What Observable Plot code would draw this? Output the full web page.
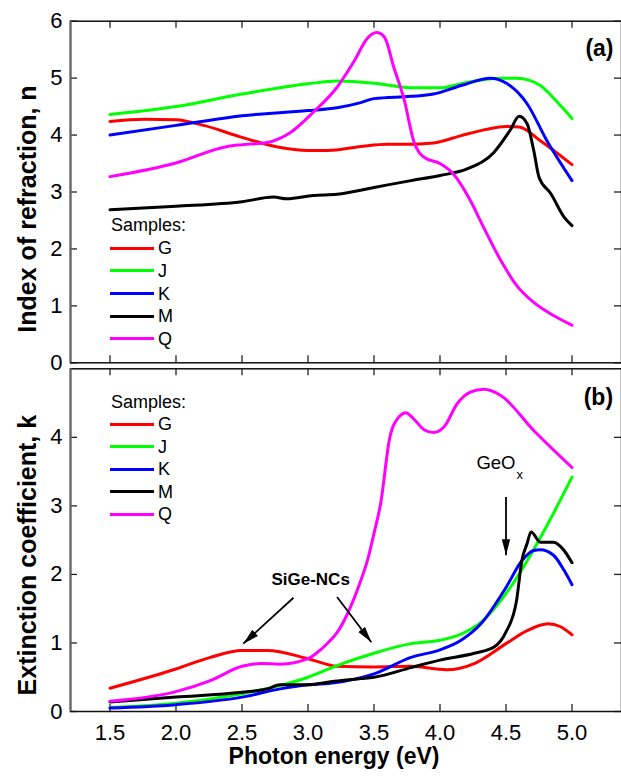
<!DOCTYPE html>
<html>
<head>
<meta charset="utf-8">
<script src="https://cdn.jsdelivr.net/npm/d3@7"></script>
<script src="https://cdn.jsdelivr.net/npm/@observablehq/plot@0.6"></script>
<style>
  html, body { margin: 0; padding: 0; background: #fff; }
  #wrap { position: relative; width: 621px; height: 779px; font-family: "Liberation Sans", Arial, sans-serif; overflow: hidden; }
  #wrap svg { position: absolute; left: 0; }
  .lg { position: absolute; font-family: "Liberation Sans", Arial, sans-serif; font-size: 18px; color: #000; line-height: 20px; height: 20px; display: flex; align-items: center; white-space: nowrap; }
  .lg .sw { width: 44px; height: 3px; margin-right: 4px; }
</style>
</head>
<body>
<div id="wrap"></div>
<script>
// ---------- data ----------
const samples = ["G", "J", "K", "M", "Q"];
const colors = ["#ff0000", "#00ff00", "#0000ff", "#000000", "#ff00ff"];
const xTicks = [1.5, 2.0, 2.5, 3.0, 3.5, 4.0, 4.5, 5.0];
const nTicks = [0, 1, 2, 3, 4, 5, 6];
const kTicks = [0, 1, 2, 3, 4];

// (a) index of refraction n
const nG_E = [1.5, 1.76, 2.0, 2.21, 2.5, 2.77, 3.0, 3.15, 3.4, 3.6, 3.8, 3.95, 4.16, 4.35, 4.5, 4.6, 4.76, 5.0];
const nG   = [4.24, 4.28, 4.27, 4.17, 3.96, 3.79, 3.73, 3.73, 3.80, 3.84, 3.84, 3.86, 3.99, 4.10, 4.15, 4.14, 3.90, 3.48];
const nJ_E = [1.5, 2.0, 2.5, 3.0, 3.22, 3.5, 3.78, 4.0, 4.21, 4.46, 4.58, 4.68, 4.76, 4.84, 4.92, 5.0];
const nJ   = [4.36, 4.50, 4.72, 4.90, 4.95, 4.91, 4.83, 4.83, 4.93, 5.00, 5.00, 4.96, 4.87, 4.70, 4.50, 4.29];
const nK_E = [1.5, 2.0, 2.5, 3.0, 3.22, 3.4, 3.5, 3.78, 3.95, 4.16, 4.38, 4.51, 4.66, 4.81, 5.0];
const nK   = [4.00, 4.17, 4.34, 4.43, 4.48, 4.57, 4.64, 4.68, 4.72, 4.87, 5.00, 4.90, 4.55, 3.90, 3.20];
const nM_E = [1.5, 2.0, 2.5, 2.74, 2.84, 3.04, 3.22, 3.5, 3.78, 4.0, 4.21, 4.41, 4.53, 4.6, 4.66, 4.71, 4.75, 4.84, 4.94, 5.0];
const nM   = [2.69, 2.75, 2.83, 2.91, 2.88, 2.94, 2.96, 3.08, 3.20, 3.29, 3.41, 3.70, 4.08, 4.33, 4.20, 3.73, 3.26, 2.97, 2.56, 2.41];
const nQ_E = [1.5, 2.0, 2.39, 2.5, 2.69, 2.87, 3.04, 3.22, 3.35, 3.45, 3.52, 3.58, 3.65, 3.73, 3.80, 3.88, 4.0, 4.10, 4.23, 4.33, 4.46, 4.58, 4.71, 4.86, 5.0];
const nQ   = [3.27, 3.51, 3.80, 3.83, 3.87, 4.05, 4.40, 4.84, 5.30, 5.70, 5.80, 5.72, 5.19, 4.61, 3.90, 3.61, 3.50, 3.32, 2.85, 2.38, 1.80, 1.36, 1.06, 0.83, 0.66];

// (b) extinction coefficient k
const kG_E = [1.5, 2.0, 2.26, 2.5, 2.69, 3.0, 3.22, 3.5, 3.78, 4.05, 4.26, 4.5, 4.66, 4.82, 4.91, 5.0];
const kG   = [0.34, 0.62, 0.79, 0.89, 0.89, 0.77, 0.66, 0.65, 0.66, 0.61, 0.70, 0.99, 1.18, 1.28, 1.24, 1.12];
const kJ_E = [1.5, 2.0, 2.5, 2.79, 3.0, 3.22, 3.5, 3.78, 4.0, 4.16, 4.31, 4.5, 4.63, 4.79, 5.0];
const kJ   = [0.06, 0.12, 0.26, 0.38, 0.50, 0.67, 0.85, 0.99, 1.04, 1.13, 1.30, 1.72, 2.10, 2.64, 3.42];
const kK_E = [1.5, 2.0, 2.5, 2.79, 3.0, 3.2, 3.5, 3.78, 4.0, 4.16, 4.31, 4.5, 4.62, 4.71, 4.76, 4.86, 4.94, 5.0];
const kK   = [0.05, 0.10, 0.21, 0.33, 0.39, 0.42, 0.55, 0.79, 0.90, 1.04, 1.28, 1.81, 2.20, 2.35, 2.36, 2.28, 2.06, 1.85];
const kM_E = [1.5, 2.0, 2.5, 2.69, 2.79, 3.0, 3.2, 3.4, 3.5, 3.78, 4.0, 4.26, 4.41, 4.5, 4.58, 4.62, 4.66, 4.69, 4.76, 4.86, 4.94, 5.0];
const kM   = [0.14, 0.21, 0.28, 0.33, 0.39, 0.39, 0.44, 0.48, 0.50, 0.64, 0.75, 0.85, 0.94, 1.16, 1.62, 2.20, 2.45, 2.62, 2.47, 2.47, 2.35, 2.17];
const kQ_E = [1.5, 2.0, 2.26, 2.5, 2.64, 2.79, 3.0, 3.07, 3.15, 3.22, 3.30, 3.40, 3.45, 3.50, 3.55, 3.62, 3.69, 3.74, 3.80, 3.88, 3.95, 4.03, 4.13, 4.23, 4.33, 4.46, 4.71, 5.0];
const kQ   = [0.15, 0.29, 0.45, 0.66, 0.70, 0.69, 0.77, 0.86, 1.00, 1.15, 1.43, 1.91, 2.20, 2.60, 3.03, 4.00, 4.30, 4.36, 4.27, 4.11, 4.07, 4.15, 4.49, 4.66, 4.70, 4.61, 4.10, 3.56];

// annotations (data coordinates of panel b)
const annArrows = [
  {x1: 2.89, y1: 1.66, x2: 2.51, y2: 0.99},
  {x1: 3.22, y1: 1.67, x2: 3.48, y2: 1.01},
  {x1: 4.50, y1: 3.13, x2: 4.50, y2: 2.28}
];

// ---------- build tables ----------
function table(pairs) {
  const rows = [];
  pairs.forEach(([s, E, V]) => E.forEach((e, i) => rows.push({sample: s, E: e, v: V[i]})));
  return rows;
}
const nRows = table([["G", nG_E, nG], ["J", nJ_E, nJ], ["K", nK_E, nK], ["M", nM_E, nM], ["Q", nQ_E, nQ]]);
const kRows = table([["G", kG_E, kG], ["J", kJ_E, kJ], ["K", kK_E, kK], ["M", kM_E, kM], ["Q", kQ_E, kQ]]);

const W = 621, ML = 70, MR = 0;
const xDomain = [1.5 - (109.5 - ML) / 132, 1.5 + (W - MR - 109.5) / 132];
const font = "Liberation Sans, Arial, sans-serif";
const TL = 7; // inward tick length

// filled triangular arrow head
function filledHead(color, context) {
  const doc = (context && context.document) || document;
  const m = doc.createElementNS("http://www.w3.org/2000/svg", "marker");
  m.setAttribute("viewBox", "0 -5 16 10");
  m.setAttribute("refX", "16");
  m.setAttribute("refY", "0");
  m.setAttribute("markerWidth", "16");
  m.setAttribute("markerHeight", "10");
  m.setAttribute("markerUnits", "userSpaceOnUse");
  m.setAttribute("orient", "auto");
  const p = doc.createElementNS("http://www.w3.org/2000/svg", "path");
  p.setAttribute("d", "M0,-4.2L16,0L0,4.2Z");
  p.setAttribute("fill", color);
  p.setAttribute("stroke", "none");
  m.appendChild(p);
  return m;
}

function frameMarks(innerW, innerH, yTicks) {
  return [
    Plot.tickX(xTicks, {x: d => d, insetTop: innerH - TL, stroke: "#222", strokeWidth: 1.3}),
    Plot.tickX(xTicks, {x: d => d, insetBottom: innerH - TL, stroke: "#222", strokeWidth: 1.3}),
    Plot.tickY(yTicks, {y: d => d, insetRight: innerW - TL, stroke: "#222", strokeWidth: 1.3}),
    Plot.tickY(yTicks, {y: d => d, insetLeft: innerW - TL, stroke: "#222", strokeWidth: 1.3}),
    Plot.frame({stroke: "#111", strokeWidth: 1.5}),
    Plot.ruleX([xDomain[0]], {stroke: "#666", strokeWidth: 2})
  ];
}

// ---------- panel (a) ----------
const aH = 366, aMT = 20.7, aMB = 3.7;
const plotA = Plot.plot({
  width: W, height: aH,
  marginLeft: ML, marginRight: MR, marginTop: aMT, marginBottom: aMB,
  style: {fontFamily: font, background: "none", overflow: "visible"},
  x: {domain: xDomain, axis: null},
  y: {domain: [0, 6], axis: null},
  color: {domain: samples, range: colors},
  marks: [
    ...frameMarks(W - ML - MR, aH - aMT - aMB, nTicks),
    Plot.axisY({ticks: nTicks, tickSize: 0, tickPadding: 8, fontSize: 22, label: null, tickFormat: d3.format("d")}),
    Plot.line(nRows, {x: "E", y: "v", z: "sample", stroke: "sample", strokeWidth: 3, curve: "monotone-x"}),
    Plot.text(["Index of refraction, n"], {frameAnchor: "left", textAnchor: "middle", text: d => d, rotate: -90, dx: -43, dy: 17, fontSize: 25, fontWeight: "bold"}),
    Plot.text(["(a)"], {x: 5.208, y: 5.52, text: d => d, fontSize: 23, fontWeight: "bold"})
  ]
});
plotA.style.top = "0px";

// ---------- panel (b) ----------
const bTop = 366, bH = 413, bMT = 2.3, bMB = 68;
const plotB = Plot.plot({
  width: W, height: bH,
  marginLeft: ML, marginRight: MR, marginTop: bMT, marginBottom: bMB,
  style: {fontFamily: font, background: "none", overflow: "visible"},
  x: {domain: xDomain, axis: null},
  y: {domain: [0, 5], axis: null},
  color: {domain: samples, range: colors},
  marks: [
    ...frameMarks(W - ML - MR, bH - bMT - bMB, kTicks),
    Plot.axisY({ticks: kTicks, tickSize: 0, tickPadding: 8, fontSize: 22, label: null, tickFormat: d3.format("d")}),
    Plot.axisX({ticks: xTicks, tickSize: 0, tickPadding: 13, fontSize: 22, label: null, tickFormat: d3.format(".1f")}),
    Plot.line(kRows, {x: "E", y: "v", z: "sample", stroke: "sample", strokeWidth: 3, curve: "monotone-x"}),
    Plot.link(annArrows, {x1: "x1", y1: "y1", x2: "x2", y2: "y2", stroke: "#000", strokeWidth: 1.8, markerEnd: filledHead}),
    Plot.text(["SiGe-NCs"], {x: 3.02, y: 1.93, text: d => d, fontSize: 17, fontWeight: "bold"}),
    Plot.text(["GeO"], {x: 4.424, y: 3.62, text: d => d, fontSize: 18.5}),
    Plot.text(["x"], {x: 4.605, y: 3.46, text: d => d, fontSize: 13}),
    Plot.text(["(b)"], {x: 5.20, y: 4.58, text: d => d, fontSize: 23, fontWeight: "bold"}),
    Plot.text(["Extinction coefficient, k"], {frameAnchor: "left", textAnchor: "middle", text: d => d, rotate: -90, dx: -43, dy: 15, fontSize: 25, fontWeight: "bold"}),
    Plot.text(["Photon energy (eV)"], {frameAnchor: "bottom", textAnchor: "middle", text: d => d, dx: -12, dy: 52.6, fontSize: 23, fontWeight: "bold"})
  ]
});
plotB.style.top = bTop + "px";

const wrap = document.getElementById("wrap");
wrap.appendChild(plotA);
wrap.appendChild(plotB);

// ---------- legends (HTML overlay) ----------
function legend(titleCenter, firstRowCenter) {
  const t = document.createElement("div");
  t.className = "lg";
  t.style.left = "111px";
  t.style.top = (titleCenter - 10) + "px";
  t.textContent = "Samples:";
  wrap.appendChild(t);
  samples.forEach((s, i) => {
    const r = document.createElement("div");
    r.className = "lg";
    r.style.left = "110px";
    r.style.top = (firstRowCenter + i * 22.6 - 10) + "px";
    const sw = document.createElement("span");
    sw.className = "sw";
    sw.style.background = colors[i];
    const lab = document.createElement("span");
    lab.textContent = s;
    r.appendChild(sw);
    r.appendChild(lab);
    wrap.appendChild(r);
  });
}
legend(224.5, 248.3);
legend(401.7, 424);
</script>
</body>
</html>
